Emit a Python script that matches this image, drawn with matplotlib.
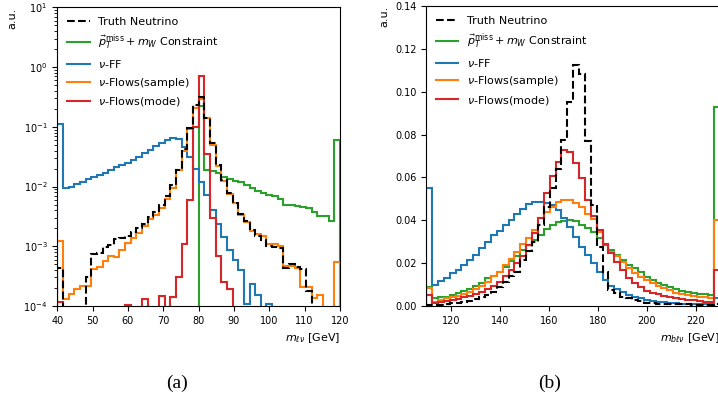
import numpy as np
import matplotlib
matplotlib.use("Agg")
import matplotlib.pyplot as plt

# ── m_lv 直方图（左图，对数纵轴）──
edges_lv = np.linspace(40, 120, 51)

truth_lv = [4.4e-4, 0, 0, 0, 0, 3.0e-4, 7.5e-4, 7.7e-4, 9.7e-4, 1.04e-3,
            1.34e-3, 1.4e-3, 1.5e-3, 1.7e-3, 2.0e-3, 2.4e-3, 3.1e-3, 3.8e-3, 5.0e-3, 7.0e-3,
            1.05e-2, 1.9e-2, 4.2e-2, 9.5e-2, 0.23, 0.32, 0.138, 0.053, 0.023, 0.013,
            7.7e-3, 5.2e-3, 3.5e-3, 2.6e-3, 1.9e-3, 1.5e-3, 1.26e-3, 1.0e-3, 9.8e-4, 9.5e-4,
            4.3e-4, 5.0e-4, 4.5e-4, 4.2e-4, 1.8e-4, 0, 0, 0, 0, 0]
constraint_lv = [0] * 25 + [0.22, 0.019, 0.018, 0.017, 0.0145,
                            0.0135, 0.0125, 0.0118, 0.0105, 0.0095, 0.0085, 0.0078, 0.0072, 0.0070, 0.0062,
                            0.0050, 0.0049, 0.0047, 0.0046, 0.0044, 0.0038, 0.0032, 0.0032, 0.0026, 0.060]
nuff_lv = [0.11, 0.0093, 0.010, 0.011, 0.012, 0.0133, 0.0145, 0.0157, 0.017, 0.019,
           0.021, 0.023, 0.025, 0.028, 0.031, 0.036, 0.041, 0.047, 0.054, 0.060,
           0.066, 0.062, 0.045, 0.031, 0.020, 0.012, 0.0071, 0.0040, 0.0024, 0.00145,
           8.6e-4, 5.9e-4, 4.0e-4, 1.1e-4, 2.3e-4, 1.5e-4, 0, 1.1e-4, 0, 0,
           0, 0, 0, 0, 0, 0, 0, 0, 0, 0]
sample_lv = [1.23e-3, 1.3e-4, 1.6e-4, 1.9e-4, 2.2e-4, 2.2e-4, 4.2e-4, 4.5e-4, 5.6e-4, 6.8e-4,
             6.5e-4, 8.6e-4, 1.15e-3, 1.4e-3, 1.65e-3, 2.2e-3, 2.9e-3, 3.4e-3, 4.4e-3, 6.2e-3,
             9.5e-3, 1.9e-2, 3.9e-2, 9.3e-2, 0.21, 0.29, 0.14, 0.05, 0.022, 0.0125,
             7.5e-3, 5.2e-3, 3.4e-3, 2.5e-3, 1.8e-3, 1.6e-3, 1.5e-3, 1.1e-3, 1.1e-3, 1.0e-3,
             4.6e-4, 4.6e-4, 4.4e-4, 2.1e-4, 2.1e-4, 1.35e-4, 1.5e-4, 0, 0, 5.5e-4]
mode_lv = [1.15e-4, 0, 0, 0, 0, 0, 0, 0, 0, 0,
           0, 0, 1.05e-4, 0, 0, 1.3e-4, 0, 0, 1.45e-4, 0,
           1.4e-4, 3.1e-4, 1.1e-3, 5.9e-3, 0.10, 0.72, 0.035, 3.0e-3, 7.0e-4, 2.5e-4,
           1.9e-4, 0, 0, 0, 0, 0, 0, 0, 0, 0,
           0, 0, 0, 0, 0, 0, 0, 0, 0, 0]

# ── m_blv 直方图（右图，线性纵轴）──
edges_blv = np.linspace(110, 230, 51)

truth_blv = [0.0005, 0.0003, 0.0005, 0.0009, 0.0012, 0.0016, 0.0020, 0.0025, 0.0031, 0.0040,
             0.0052, 0.0067, 0.0090, 0.0114, 0.0138, 0.0160, 0.0216, 0.0255, 0.0300, 0.0380,
             0.0460, 0.0550, 0.0640, 0.0775, 0.0953, 0.1125, 0.1083, 0.0771, 0.0470, 0.0277,
             0.0160, 0.0075, 0.0062, 0.0044, 0.0035, 0.0028, 0.0022, 0.0016, 0.0013, 0.0010,
             0.0009, 0.0008, 0.0008, 0.0007, 0.0007, 0.0006, 0.0006, 0.0005, 0.0005, 0.0008]
constraint_blv = [0.0090, 0.0036, 0.0040, 0.0044, 0.0052, 0.0060, 0.0070, 0.0080, 0.0094, 0.0106,
                  0.0130, 0.0140, 0.0160, 0.0180, 0.0208, 0.0234, 0.0260, 0.0286, 0.0310, 0.0330,
                  0.0360, 0.0380, 0.0390, 0.0395, 0.0400, 0.0395, 0.0380, 0.0364, 0.0344, 0.0316,
                  0.0285, 0.0261, 0.0238, 0.0215, 0.0191, 0.0176, 0.0160, 0.0137, 0.0121, 0.0109,
                  0.0098, 0.0087, 0.0078, 0.0070, 0.0066, 0.0062, 0.0058, 0.0054, 0.0052, 0.0927]
nuff_blv = [0.055, 0.0100, 0.0115, 0.0130, 0.0155, 0.0170, 0.0190, 0.0215, 0.0240, 0.0270,
            0.0300, 0.0330, 0.0350, 0.0380, 0.0400, 0.0430, 0.0455, 0.0475, 0.0485, 0.0487,
            0.0480, 0.0470, 0.0448, 0.0410, 0.0370, 0.0324, 0.0277, 0.0238, 0.0199, 0.0160,
            0.0121, 0.0095, 0.0078, 0.0065, 0.0051, 0.0042, 0.0036, 0.0028, 0.0024, 0.0020,
            0.0018, 0.0015, 0.0012, 0.0011, 0.0010, 0.0009, 0.0008, 0.0008, 0.0007, 0.0036]
sample_blv = [0.0083, 0.0020, 0.0028, 0.0036, 0.0040, 0.0047, 0.0056, 0.0067, 0.0078, 0.0094,
              0.0114, 0.0138, 0.0160, 0.0190, 0.0220, 0.0250, 0.0288, 0.0316, 0.0355, 0.0410,
              0.0440, 0.0464, 0.0485, 0.0495, 0.0495, 0.0480, 0.0460, 0.0430, 0.0405, 0.0345,
              0.0290, 0.0254, 0.0235, 0.0207, 0.0176, 0.0152, 0.0134, 0.0121, 0.0106, 0.0092,
              0.0082, 0.0075, 0.0062, 0.0055, 0.0051, 0.0046, 0.0044, 0.0040, 0.0035, 0.0400]
mode_blv = [0.0052, 0.0016, 0.0020, 0.0025, 0.0028, 0.0033, 0.0040, 0.0047, 0.0056, 0.0067,
            0.0078, 0.0094, 0.0114, 0.0138, 0.0166, 0.0200, 0.0234, 0.0286, 0.0340, 0.0410,
            0.0526, 0.0607, 0.0670, 0.0728, 0.0720, 0.0666, 0.0596, 0.0495, 0.0420, 0.0355,
            0.0290, 0.0246, 0.0207, 0.0168, 0.0129, 0.0106, 0.0087, 0.0072, 0.0059, 0.0055,
            0.0047, 0.0042, 0.0036, 0.0033, 0.0028, 0.0026, 0.0021, 0.0020, 0.0020, 0.0168]

labels = ["Truth Neutrino",
          r"$\vec{p}_T^{\rm miss} + m_W$ Constraint",
          r"$\nu$-FF",
          r"$\nu$-Flows(sample)",
          r"$\nu$-Flows(mode)"]
colors = ["black", "#2ca02c", "#1f77b4", "#ff7f0e", "#d62728"]


def draw_panel(ax, edges, series):
    handles = []
    for vals, lbl, c in zip(series, labels, colors):
        is_truth = lbl == "Truth Neutrino"
        _, _, patches = ax.hist(edges[:-1], bins=edges, weights=vals, histtype="step",
                                color=c, lw=1.5, linestyle="--" if is_truth else "-",
                                zorder=3 if is_truth else 2)
        handles.append(plt.Line2D([], [], color=c, lw=1.5,
                                  linestyle="--" if is_truth else "-"))
    ax.legend(handles, labels, loc="upper left", frameon=False, fontsize=8)
    ax.tick_params(labelsize=7)
    ax.set_ylabel("a.u.", loc="top", fontsize=8)


fig = plt.figure(figsize=(7.18, 4.03), dpi=100)

ax1 = fig.add_axes([0.0798, 0.2407, 0.3937, 0.7412])
ax1.set_yscale("log")
draw_panel(ax1, edges_lv, [truth_lv, constraint_lv, nuff_lv, sample_lv, mode_lv])
ax1.set_xlim(40, 120)
ax1.set_ylim(1e-4, 10)
ax1.set_xticks(np.arange(40, 121, 10))
ax1.set_xlabel(r"$m_{\ell\nu}$ [GeV]", loc="right", fontsize=8)

ax2 = fig.add_axes([0.5936, 0.2407, 0.4095, 0.7444])
draw_panel(ax2, edges_blv, [truth_blv, constraint_blv, nuff_blv, sample_blv, mode_blv])
ax2.set_xlim(110, 230)
ax2.set_ylim(0, 0.14)
ax2.set_xticks(np.arange(120, 221, 20))
ax2.set_yticks(np.arange(0, 0.141, 0.02))
ax2.set_xlabel(r"$m_{b\ell\nu}$ [GeV]", loc="right", fontsize=8)

fig.text(177 / 718, 1 - 383 / 403, "(a)", ha="center", va="center",
         family="Liberation Serif", fontsize=14)
fig.text(550 / 718, 1 - 383 / 403, "(b)", ha="center", va="center",
         family="Liberation Serif", fontsize=14)

fig.savefig("out.png", dpi=100)
